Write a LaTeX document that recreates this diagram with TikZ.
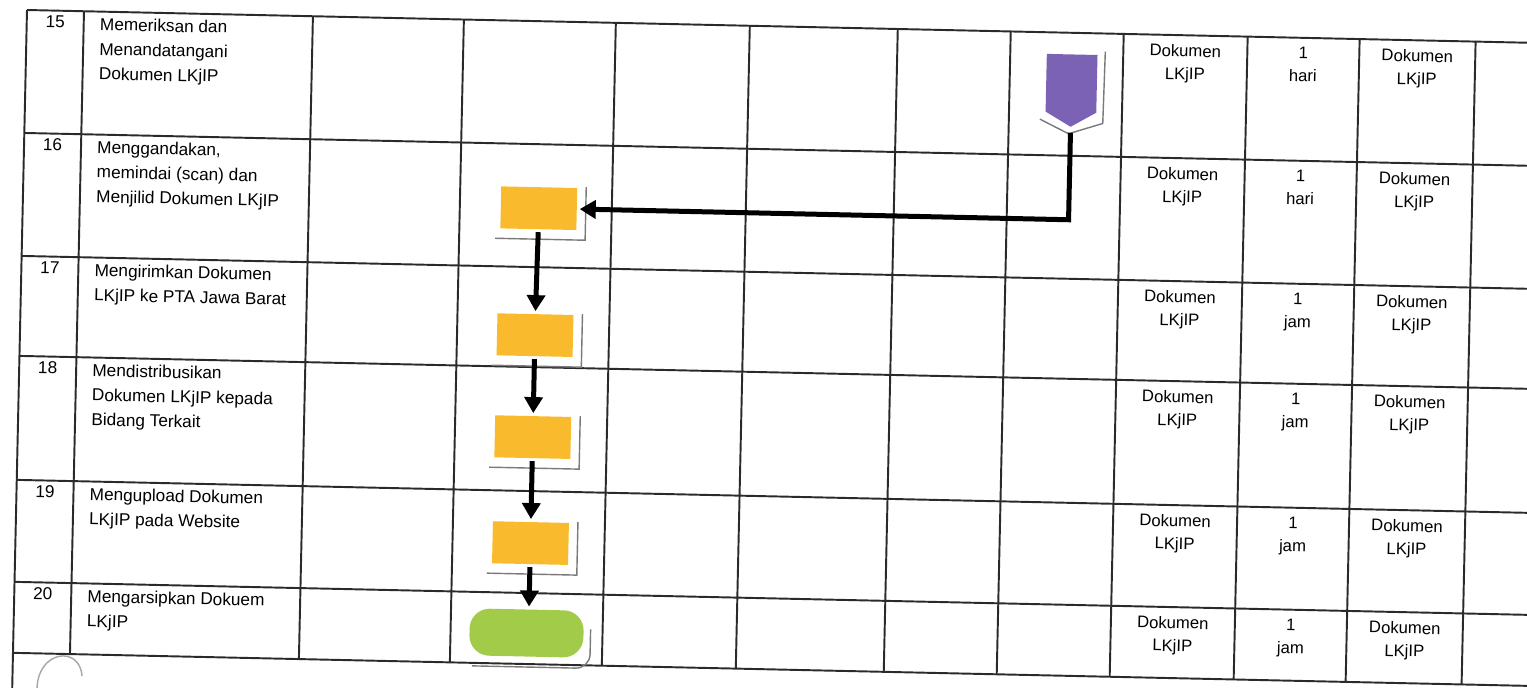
\documentclass[tikz,border=0pt]{standalone}
\usepackage{fontspec}
\setmainfont{Liberation Sans}
\usetikzlibrary{arrows.meta}
\newlength\pxu \setlength\pxu{0.02cm}
\definecolor{boxyellow}{HTML}{F9BB2D}
\definecolor{termgreen}{HTML}{A2CB49}
\definecolor{offpurple}{HTML}{7B62B4}
\definecolor{gridline}{HTML}{2A2A2A}
\definecolor{shadowgrey}{HTML}{7A7A7A}
\begin{document}
\begin{tikzpicture}[x=0.02cm, y=0.02cm,
  grid/.style={draw=gridline, line width=1.1pt},
  procbox/.style={fill=boxyellow, minimum width=76\pxu, minimum height=42\pxu, inner sep=0pt, outer sep=3\pxu},
  termbox/.style={fill=termgreen, rounded corners=20\pxu, minimum width=114\pxu, minimum height=47\pxu, inner sep=0pt, outer sep=3\pxu},
  shadowline/.style={draw=shadowgrey, line width=0.8pt},
  conn/.style={draw=black, line width=0.1cm, -{Triangle[width=0.36cm, length=0.32cm]}},
  numtext/.style={anchor=north, inner sep=0pt, font=\fontsize{9.8}{14}\selectfont},
  desctext/.style={anchor=north west, inner sep=0pt, align=left, font=\fontsize{9.8}{14}\selectfont},
  celltext/.style={anchor=north, inner sep=0pt, align=center, font=\fontsize{9.5}{13}\selectfont},
]
\useasboundingbox (0,0) rectangle (1527,-687);
\clip (0,0) rectangle (1527,-687);
\fill[white] (0,0) rectangle (1527,-687);
% page artifact arc
\draw[gray!70, line width=0.8pt] (37,-690) .. controls (37,-650) and (80,-645) .. (82,-676);
\begin{scope}[rotate around={-1.25:(27,-10)}, transform shape]
  % grid
  \foreach \y in {10,133,256,356,480,582,653} \draw[grid] (27,-\y) -- (1570,-\y);
  \foreach \x in {84,313,464,616,750,898,1011,1124,1248,1360,1476} \draw[grid] (\x,-10) -- (\x,-653);
  \draw[grid] (27,-10) -- (27,-720);
  % numbers
  \node[numtext] (n15) at (55.5,-15) {15};
  \node[numtext] (n16) at (55.5,-138) {16};
  \node[numtext] (n17) at (55.5,-261) {17};
  \node[numtext] (n18) at (55.5,-361) {18};
  \node[numtext] (n19) at (55.5,-485) {19};
  \node[numtext] (n20) at (55.5,-587) {20};
  % descriptions
  \node[desctext] (d15) at (100,-16) {Memeriksan dan\\Menandatangani\\Dokumen LKjIP};
  \node[desctext] (d16) at (100,-139) {Menggandakan,\\memindai (scan) dan\\Menjilid Dokumen LKjIP};
  \node[desctext] (d17) at (100,-262) {Mengirimkan Dokumen\\LKjIP ke PTA Jawa Barat};
  \node[desctext] (d18) at (100,-362) {Mendistribusikan\\Dokumen LKjIP kepada\\Bidang Terkait};
  \node[desctext] (d19) at (100,-486) {Mengupload Dokumen\\LKjIP pada Website};
  \node[desctext] (d20) at (100,-588) {Mengarsipkan Dokuem\\LKjIP};
  % right cells
  \foreach \r/\t/\u in {15/19/hari,16/142/hari,17/265/jam,18/365/jam,19/489/jam,20/591/jam}{
    \node[celltext] (ia\r) at (1186,-\t) {Dokumen\\LKjIP};
    \node[celltext] (ib\r) at (1304,-\t) {1\\\u};
    \node[celltext] (ic\r) at (1418,-\t) {Dokumen\\LKjIP};
  }
  % shadows
  \foreach \cx/\cy in {543/-197,542/-324,542/-426,542/-532}
    \draw[shadowline] (\cx+47,\cy+22) -- (\cx+47,\cy-31) -- (\cx-43,\cy-31);
  \draw[shadowline, rounded corners=14\pxu] (486,-656) -- (604,-656) -- (604,-617);
  \draw[shadowline] (1106,-28) -- (1105,-100) -- (1071,-111) -- (1042,-97);
  % shapes
  \node[procbox] (p16) at (543,-197) {};
  \node[procbox] (p17) at (542,-324) {};
  \node[procbox] (p18) at (542,-426) {};
  \node[procbox] (p19) at (542,-532) {};
  \node[termbox] (t20) at (540,-622) {};
  \node[inner sep=0pt, minimum width=50\pxu, minimum height=57\pxu] (pur) at (1073,-60.5) {};
  \coordinate (purtip) at (1073,-104);
  \fill[offpurple] (pur.north west) -- (pur.north east) -- (pur.south east) -- (purtip) -- (pur.south west) -- cycle;
  % connectors
  \draw[conn, shorten <=6\pxu] (purtip) |- (p16.east);
  \draw[conn] (p16.south) -- (p17.north);
  \draw[conn] (p17.south) -- (p18.north);
  \draw[conn] (p18.south) -- (p19.north);
  \draw[conn] (p19.south) -- (p19.south |- t20.north);
\end{scope}
\end{tikzpicture}
\end{document}
